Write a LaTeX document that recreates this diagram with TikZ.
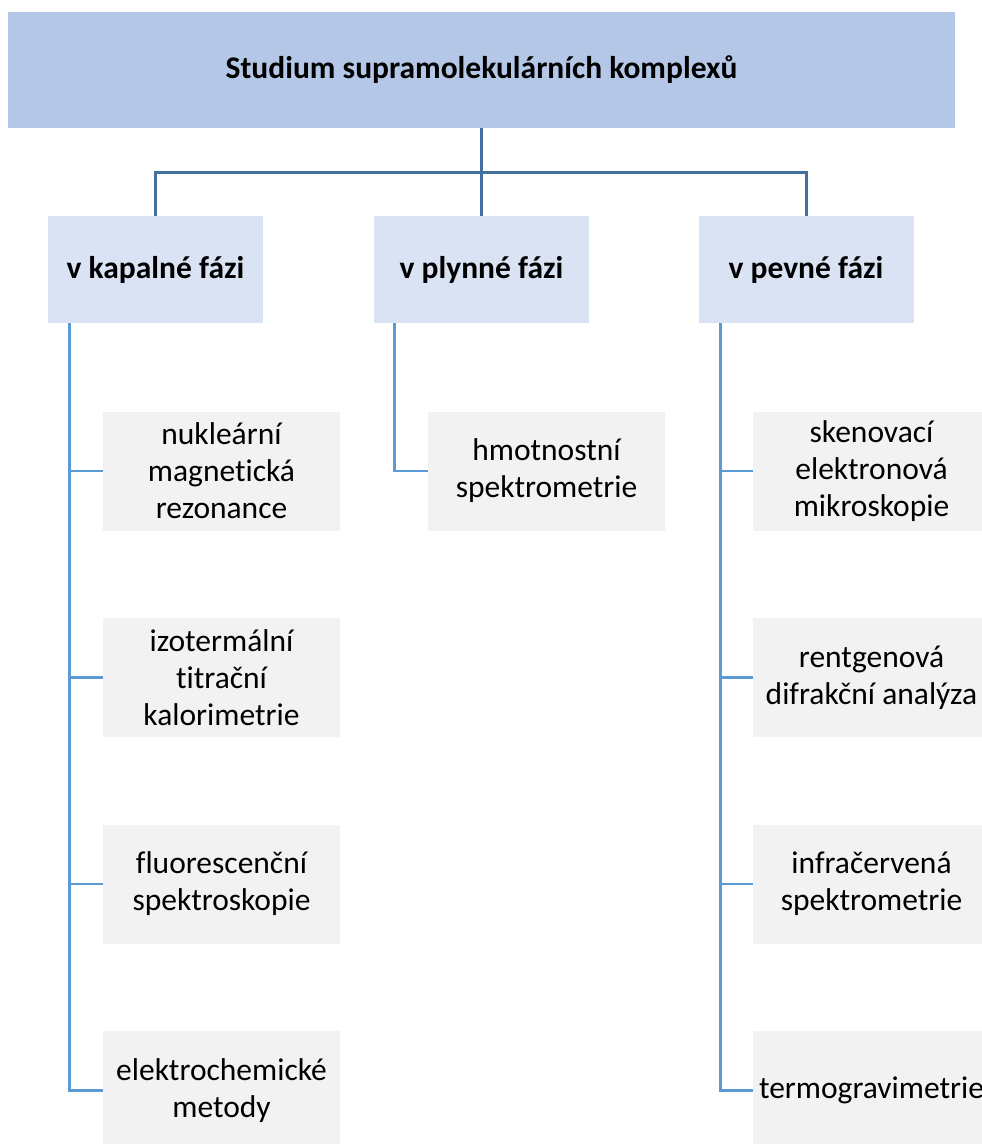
\documentclass[tikz,border=0pt]{standalone}
\usepackage{fontspec}
\setmainfont{Carlito}[Ligatures=NoCommon]
\usepackage{tikz}
\usetikzlibrary{positioning, calc}
\usepackage{xcolor}
\definecolor{rootblue}{RGB}{180, 199, 231}
\definecolor{phaseblue}{RGB}{218, 227, 243}
\definecolor{leafgray}{RGB}{242, 242, 242}
\definecolor{trunkblue}{RGB}{65, 113, 156}
\definecolor{branchblue}{RGB}{91, 155, 213}

\begin{document}
\begin{tikzpicture}[x=1pt, y=-1pt,
  box/.style={inner sep=0pt, align=center, font=\fontsize{31.5}{37}\selectfont},
  rootbox/.style={box, fill=rootblue, minimum width=947pt, minimum height=116pt, font=\fontsize{31.5}{37}\selectfont\bfseries},
  phasebox/.style={box, fill=phaseblue, minimum width=215pt, minimum height=107pt, font=\fontsize{31.5}{37}\selectfont\bfseries},
  leafbox/.style={box, fill=leafgray, minimum width=237pt, minimum height=119pt},
  trunk/.style={trunkblue, line width=3pt},
  branch/.style={branchblue, line width=2.75pt}]
  \useasboundingbox (0,0) rectangle (982,1144);

  % kořen
  \node[rootbox] (root) at (481.5,70) {Studium supramolekulárních komplexů};

  % fáze
  \node[phasebox] (liq) at (155.5,269.5) {v kapalné fázi};
  \node[phasebox] (gas) at (481.5,269.5) {v plynné fázi};
  \node[phasebox] (sol) at (806,269.5) {v pevné fázi};

  % metody -- kapalná fáze
  \node[leafbox] (nmr) at (221.5,471) {nukleární\\magnetická\\rezonance};
  \node[leafbox] (itc) at (221.5,677.5) {izotermální\\titrační\\kalorimetrie};
  \node[leafbox] (fluo) at (221.5,884) {fluorescenční\\spektroskopie};
  \node[leafbox] (echem) at (221.5,1090.5) {elektrochemické\\metody};

  % metody -- plynná fáze
  \node[leafbox] (ms) at (546.5,471) {hmotnostní\\spektrometrie};

  % metody -- pevná fáze
  \node[leafbox] (sem) at (871.5,471) {skenovací\\elektronová\\mikroskopie};
  \node[leafbox] (xrd) at (871.5,677.5) {rentgenová\\difrakční analýza};
  \node[leafbox] (ir) at (871.5,884) {infračervená\\spektrometrie};
  \node[leafbox] (tga) at (871.5,1090.5) {termogravimetrie};

  % kmen stromu
  \coordinate (bus) at (481.5,172);
  \draw[trunk] (root.south) -- (bus);
  \draw[trunk] (liq.north) |- (bus) -| (sol.north);
  \draw[trunk] (bus) -- (gas.north);

  % větve k metodám
  \coordinate (liqrail) at ($(liq.south west)+(22,0)$);
  \coordinate (gasrail) at ($(gas.south west)+(21,0)$);
  \coordinate (solrail) at ($(sol.south west)+(22,0)$);
  \draw[branch] (liqrail) |- (nmr.west);
  \draw[branch] (liqrail) |- (itc.west);
  \draw[branch] (liqrail) |- (fluo.west);
  \draw[branch] (liqrail) |- (echem.west);
  \draw[branch] (gasrail) |- (ms.west);
  \draw[branch] (solrail) |- (sem.west);
  \draw[branch] (solrail) |- (xrd.west);
  \draw[branch] (solrail) |- (ir.west);
  \draw[branch] (solrail) |- (tga.west);
\end{tikzpicture}
\end{document}
